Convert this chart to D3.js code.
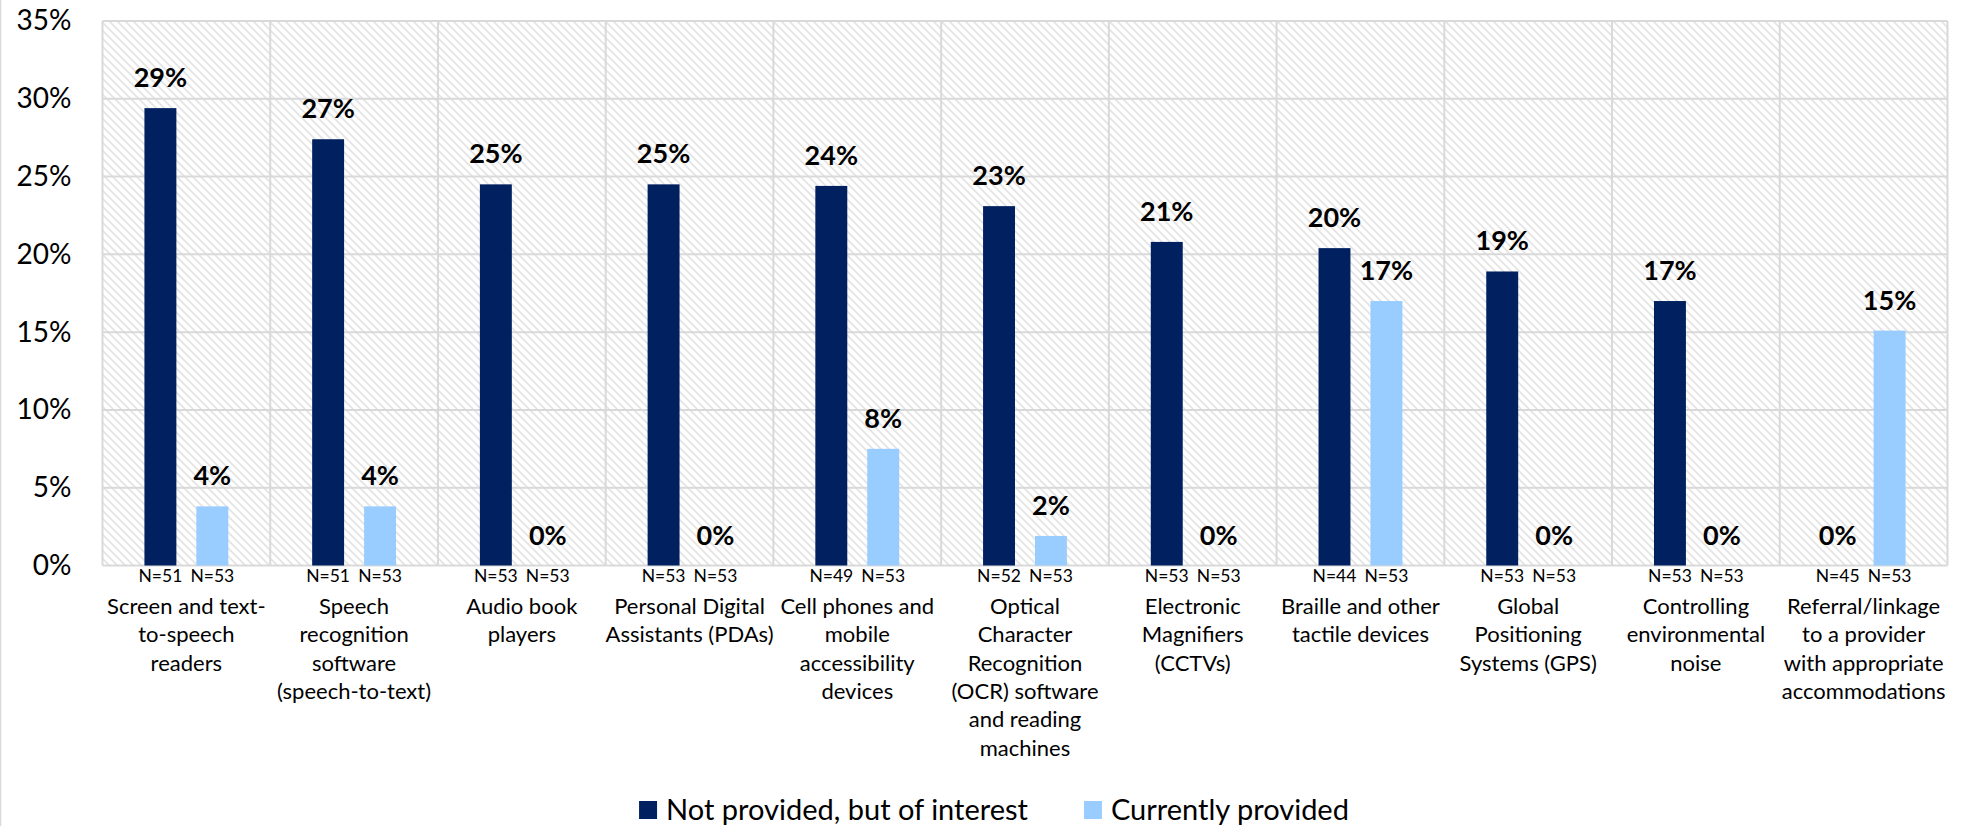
<!DOCTYPE html>
<html>
<head>
<meta charset="utf-8">
<script src="https://cdn.jsdelivr.net/npm/d3@7"></script>
<style>
  html, body { margin: 0; padding: 0; background: #fff; }
  svg { display: block; font-family: Lato, "Open Sans", sans-serif; }
</style>
</head>
<body>
<svg id="chart" width="1962" height="826"></svg>
<script>
// Assistive technology services: share of respondents per service
const categories = [
  "Screen and text-\nto-speech\nreaders",
  "Speech\nrecognition\nsoftware\n(speech-to-text)",
  "Audio book\nplayers",
  "Personal Digital\nAssistants (PDAs)",
  "Cell phones and\nmobile\naccessibility\ndevices",
  "Optical\nCharacter\nRecognition\n(OCR) software\nand reading\nmachines",
  "Electronic\nMagnifiers\n(CCTVs)",
  "Braille and other\ntactile devices",
  "Global\nPositioning\nSystems (GPS)",
  "Controlling\nenvironmental\nnoise",
  "Referral/linkage\nto a provider\nwith appropriate\naccommodations"
];
const seriesNames = ["Not provided, but of interest", "Currently provided"];
const notProvided = [29.4, 27.4, 24.5, 24.5, 24.4, 23.1, 20.8, 20.4, 18.9, 17.0, 0];
const currentlyProvided = [3.8, 3.8, 0, 0, 7.5, 1.9, 0, 17.0, 0, 0, 15.1];
const nNotProvided = [51, 51, 53, 53, 49, 52, 53, 44, 53, 53, 45];
const nCurrentlyProvided = [53, 53, 53, 53, 53, 53, 53, 53, 53, 53, 53];
const yTicks = [0, 5, 10, 15, 20, 25, 30, 35];
const colors = ["#002060", "#99ccff"];

const svg = d3.select("#chart");
const W = 1962, H = 826;
const plot = { left: 102.5, right: 1947.5, top: 21, bottom: 565.5 };

const x0 = d3.scaleBand().domain(categories).range([plot.left, plot.right]).padding(0);
const bw = x0.bandwidth();
const x1 = d3.scaleBand().domain(seriesNames)
  .range([bw * 0.25, bw * 0.75]).paddingInner(0.385).paddingOuter(0);
const y = d3.scaleLinear().domain([0, 35]).range([plot.bottom, plot.top]);

const rows = categories.map((c, i) => ({
  cat: c,
  bars: [
    { s: seriesNames[0], v: notProvided[i], n: nNotProvided[i] },
    { s: seriesNames[1], v: currentlyProvided[i], n: nCurrentlyProvided[i] }
  ]
}));

// outer chart-area edge
svg.append("line").attr("x1", 0.5).attr("x2", 0.5).attr("y1", 0).attr("y2", H)
  .attr("stroke", "#d9d9d9").attr("stroke-width", 1.5);

// hatched plot background
const defs = svg.append("defs");
const pat = defs.append("pattern").attr("id", "hatch")
  .attr("patternUnits", "userSpaceOnUse").attr("width", 8).attr("height", 8);
pat.append("rect").attr("width", 8).attr("height", 8).attr("fill", "#ffffff");
pat.append("path").attr("d", "M-2,-2 L10,10 M-2,6 L2,10 M6,-2 L10,2")
  .attr("stroke", "#e4e4e4").attr("stroke-width", 1.8);

svg.append("rect")
  .attr("x", plot.left).attr("y", plot.top)
  .attr("width", plot.right - plot.left).attr("height", plot.bottom - plot.top)
  .attr("fill", "url(#hatch)");

// gridlines
const grid = svg.append("g").attr("stroke", "#d9d9d9").attr("stroke-width", 2);
grid.selectAll("line.h").data(yTicks).join("line").attr("class", "h")
  .attr("x1", plot.left).attr("x2", plot.right)
  .attr("y1", d => y(d)).attr("y2", d => y(d));
grid.selectAll("line.v").data(categories.concat(["__end"])).join("line").attr("class", "v")
  .attr("x1", d => d === "__end" ? plot.right : x0(d))
  .attr("x2", d => d === "__end" ? plot.right : x0(d))
  .attr("y1", plot.top).attr("y2", plot.bottom);

// y axis
const yAxis = svg.append("g")
  .attr("transform", `translate(${plot.left},0)`)
  .call(d3.axisLeft(y).tickValues(yTicks).tickSize(0).tickPadding(31).tickFormat(d => d + "%"));
yAxis.select(".domain").remove();
yAxis.selectAll("text").attr("font-size", 28).attr("fill", "#000")
  .attr("font-family", "Lato, sans-serif");

// bars
const groups = svg.append("g").selectAll("g").data(rows).join("g")
  .attr("transform", d => `translate(${x0(d.cat)},0)`);

groups.selectAll("rect").data(d => d.bars).join("rect")
  .attr("x", d => x1(d.s)).attr("width", x1.bandwidth())
  .attr("y", d => y(d.v)).attr("height", d => y(0) - y(d.v))
  .attr("fill", (d, i) => colors[i]);

// value labels
groups.selectAll("text.val").data(d => d.bars).join("text").attr("class", "val")
  .attr("x", d => x1(d.s) + x1.bandwidth() / 2)
  .attr("y", d => y(d.v) - 21)
  .attr("text-anchor", "middle")
  .attr("font-size", 27).attr("font-weight", 700).attr("fill", "#000")
  .text(d => Math.round(d.v) + "%");

// sample sizes under each bar
groups.selectAll("text.n").data(d => d.bars).join("text").attr("class", "n")
  .attr("x", d => x1(d.s) + x1.bandwidth() / 2)
  .attr("y", 582)
  .attr("text-anchor", "middle")
  .attr("font-size", 17.5).attr("fill", "#000")
  .text(d => "N=" + d.n);

// category labels
groups.append("text")
  .attr("text-anchor", "middle").attr("font-size", 22).attr("fill", "#000")
  .selectAll("tspan").data(d => d.cat.split("\n")).join("tspan")
  .attr("x", bw / 2)
  .attr("y", (d, i) => 614 + i * 28.3)
  .text(d => d);

// legend
const legend = svg.append("g");
const items = legend.selectAll("g").data(seriesNames).join("g");
items.append("rect").attr("width", 18).attr("height", 18).attr("y", 801)
  .attr("fill", (d, i) => colors[i]);
items.append("text").attr("x", 27).attr("y", 820)
  .attr("font-size", 29).attr("fill", "#000").text(d => d);
let cursor = 0;
const offsets = [];
items.each(function () {
  offsets.push(cursor);
  const w = 27 + this.querySelector("text").getComputedTextLength();
  cursor += w + 56;
});
const total = cursor - 56;
const start = 994 - total / 2;
items.attr("transform", (d, i) => `translate(${start + offsets[i]},0)`);
</script>
</body>
</html>
